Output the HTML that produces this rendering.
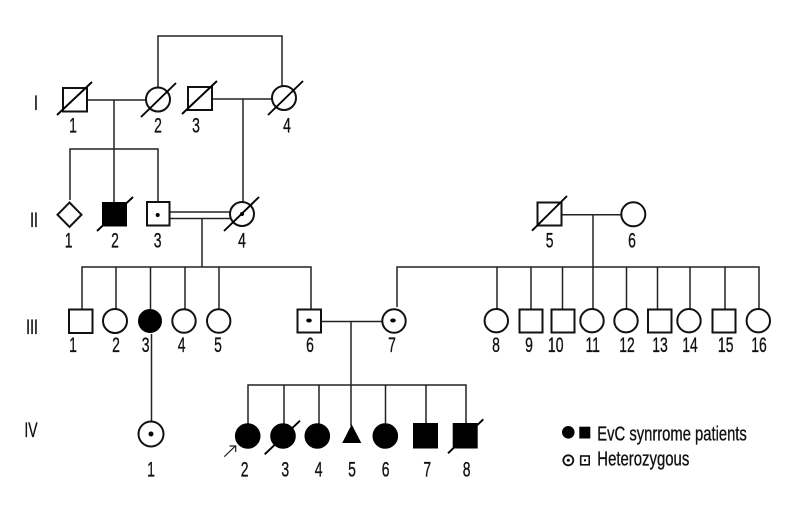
<!DOCTYPE html>
<html>
<head>
<meta charset="utf-8">
<style>
html,body{margin:0;padding:0;background:#fff}
svg{display:block}
text{font-family:"Liberation Sans",sans-serif;font-size:21.500px;fill:#111;stroke:#111;stroke-width:.35;text-anchor:middle}
.l{fill:none;stroke:#222;stroke-width:1.5}
.s{fill:#fff;stroke:#111;stroke-width:2}
.f{fill:#000;stroke:#000;stroke-width:1}
.x{fill:none;stroke:#000;stroke-width:1.9}
.d{fill:#000}
</style>
</head>
<body>
<svg width="800" height="520" viewBox="0 0 800 520" xmlns="http://www.w3.org/2000/svg">
<rect width="800" height="520" fill="#fff"/>
<!-- connectors -->
<path class="l" d="M158 88V36H282V86M87 100H146M114 100V202M212 99H272M243 99V202M70 200V149H158V202"/>
<path class="l" d="M169 212H231M169 218.500H231M202 218.500V267M82 309V267H311V309M116 267V309M150.500 267V309M185 267V309M219 267V309"/>
<path class="l" d="M321 321.500H382M351 321.500V426M248 424V385H466V424M284 385V424M319 385V424M385.500 385V424M426 385V424"/>
<path class="l" d="M151.500 334V421M562 214.700H622M593 214.700V309M397 307V267H759V309M497 267V309M531 267V309M562.500 267V309M626.500 267V309M657.500 267V309M690 267V309M725 267V309"/>
<!-- generation I -->
<rect class="s" x="63" y="88" width="24" height="23.500"/>
<path class="x" d="M57 115L92 82"/>
<circle class="s" cx="158" cy="99.500" r="12"/>
<path class="x" d="M141 117L176 83"/>
<rect class="s" x="188" y="87" width="24" height="23"/>
<path class="x" d="M182 114L217 81"/>
<circle class="s" cx="284" cy="98" r="12"/>
<path class="x" d="M268 115L303 81"/>
<!-- generation II -->
<path class="s" d="M69.500 202.500L81.500 214.700L69.500 227L57.500 214.700Z"/>
<rect class="f" x="102.500" y="202.500" width="24" height="23.500"/>
<path class="x" d="M97 231L133 197"/>
<rect class="s" x="147" y="202" width="22.500" height="23.500"/>
<circle class="d" cx="157.700" cy="215" r="2"/>
<circle class="s" cx="242" cy="214" r="12"/>
<circle class="d" cx="242" cy="214" r="2"/>
<path class="x" d="M224 231L259 197"/>
<rect class="s" x="537.500" y="202.500" width="24" height="23"/>
<path class="x" d="M532 230.700L567 196"/>
<circle class="s" cx="633.300" cy="214.300" r="12"/>
<!-- generation III -->
<rect class="s" x="69" y="309.500" width="23.500" height="23.500"/>
<circle class="s" cx="115" cy="321" r="12"/>
<circle class="f" cx="150" cy="321" r="11.500"/>
<circle class="s" cx="184" cy="321" r="11.700"/>
<circle class="s" cx="218.700" cy="321" r="11.700"/>
<rect class="s" x="297.500" y="309.500" width="23.500" height="23"/>
<ellipse class="d" cx="309" cy="320.500" rx="2.800" ry="2"/>
<circle class="s" cx="394" cy="321" r="11.700"/>
<ellipse class="d" cx="393" cy="320.500" rx="2.800" ry="2"/>
<circle class="s" cx="496.300" cy="320.700" r="11.700"/>
<rect class="s" x="519.500" y="309.500" width="23" height="23"/>
<rect class="s" x="551.500" y="309.500" width="23" height="23"/>
<circle class="s" cx="592" cy="320.700" r="11.700"/>
<circle class="s" cx="626" cy="320.700" r="11.700"/>
<rect class="s" x="648" y="309.500" width="23.500" height="23"/>
<circle class="s" cx="689" cy="320.700" r="11.700"/>
<rect class="s" x="712.500" y="309.500" width="23" height="23"/>
<circle class="s" cx="758.300" cy="320.700" r="11.700"/>
<!-- generation IV -->
<circle class="s" cx="151" cy="434" r="12.500"/>
<circle class="d" cx="151" cy="434" r="2.500"/>
<circle class="f" cx="247.700" cy="436" r="12.300"/>
<circle class="f" cx="283" cy="436" r="12.300"/>
<path class="x" d="M264.700 454.300L300 420.700"/>
<circle class="f" cx="317.300" cy="436" r="12.300"/>
<path class="f" d="M351.700 425.500L360.500 442.500H343Z"/>
<circle class="f" cx="385.300" cy="436" r="12.300"/>
<rect class="f" x="413.500" y="423.500" width="24" height="24.500"/>
<rect class="f" x="453.200" y="423.500" width="24" height="24.500"/>
<path class="x" d="M448 453.300L483.300 419.300"/>
<path class="l" style="stroke-width:1.200" d="M224.300 456.700L235.700 445.700M229.500 446H235.700V452"/>
<!-- legend -->
<circle class="f" cx="568.300" cy="432.300" r="5.800"/>
<rect class="f" x="579.800" y="427.200" width="10" height="10.800"/>
<circle cx="568.300" cy="460.300" r="5" fill="#fff" stroke="#111" stroke-width="1.800"/>
<circle class="d" cx="568.300" cy="460.300" r="1.500"/>
<rect x="580.700" y="456" width="8.500" height="8.800" fill="#fff" stroke="#111" stroke-width="1.600"/>
<rect class="d" x="584" y="459.300" width="2" height="2"/>
<text x="597.300" y="440.700" textLength="149.500" lengthAdjust="spacingAndGlyphs" style="text-anchor:start;font-size:20.500px">EvC synrrome patients</text>
<text x="597.300" y="465.700" textLength="92" lengthAdjust="spacingAndGlyphs" style="text-anchor:start;font-size:20.500px">Heterozygous</text>
<!-- generation labels -->
<text transform="translate(36 110) scale(.65 1)">I</text>
<text transform="translate(34 227) scale(.65 1)">II</text>
<text transform="translate(32 334) scale(.65 1)">III</text>
<text transform="translate(31 437) scale(.65 1)">IV</text>
<!-- I numbers -->
<text transform="translate(73 132.500) scale(.65 1)">1</text>
<text transform="translate(158 132.500) scale(.65 1)">2</text>
<text transform="translate(196 132.500) scale(.65 1)">3</text>
<text transform="translate(287 132.500) scale(.65 1)">4</text>
<!-- II numbers -->
<text transform="translate(68.700 247.700) scale(.65 1)">1</text>
<text transform="translate(115 247.700) scale(.65 1)">2</text>
<text transform="translate(157.700 247.700) scale(.65 1)">3</text>
<text transform="translate(242 247.700) scale(.65 1)">4</text>
<text transform="translate(549.700 247.700) scale(.65 1)">5</text>
<text transform="translate(632 247.700) scale(.65 1)">6</text>
<!-- III numbers -->
<text transform="translate(73 352) scale(.65 1)">1</text>
<text transform="translate(116 352) scale(.65 1)">2</text>
<text transform="translate(145.700 352) scale(.65 1)">3</text>
<text transform="translate(181.700 352) scale(.65 1)">4</text>
<text transform="translate(218 352) scale(.65 1)">5</text>
<text transform="translate(310 352) scale(.65 1)">6</text>
<text transform="translate(392 352) scale(.65 1)">7</text>
<text transform="translate(496 352) scale(.65 1)">8</text>
<text transform="translate(529 352) scale(.65 1)">9</text>
<text transform="translate(555.700 352) scale(.65 1)">10</text>
<text transform="translate(592.700 352) scale(.65 1)">11</text>
<text transform="translate(627 352) scale(.65 1)">12</text>
<text transform="translate(660 352) scale(.65 1)">13</text>
<text transform="translate(690 352) scale(.65 1)">14</text>
<text transform="translate(725.700 352) scale(.65 1)">15</text>
<text transform="translate(759 352) scale(.65 1)">16</text>
<!-- IV numbers -->
<text transform="translate(151 476.700) scale(.65 1)">1</text>
<text transform="translate(244.700 476.700) scale(.65 1)">2</text>
<text transform="translate(285.300 476.700) scale(.65 1)">3</text>
<text transform="translate(318.700 476.700) scale(.65 1)">4</text>
<text transform="translate(352 476.700) scale(.65 1)">5</text>
<text transform="translate(385.700 476.700) scale(.65 1)">6</text>
<text transform="translate(427.300 476.700) scale(.65 1)">7</text>
<text transform="translate(466.700 476.700) scale(.65 1)">8</text>
</svg>
</body>
</html>
